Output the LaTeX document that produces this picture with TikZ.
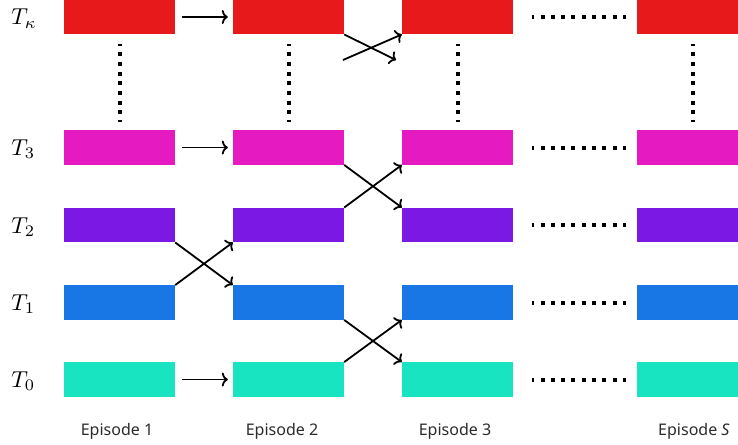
\documentclass[tikz,border=0pt]{standalone}
\usepackage{fontspec}
\newfontfamily\epfont{Noto Sans}
\usetikzlibrary{arrows.meta}
\definecolor{cred}{HTML}{E8191A}
\definecolor{cmag}{HTML}{E51AC1}
\definecolor{cpur}{HTML}{7C18E3}
\definecolor{cblu}{HTML}{1877E4}
\definecolor{ctea}{HTML}{19E4C1}
\definecolor{ctxt}{HTML}{2B2B2B}
\begin{document}
\begin{tikzpicture}[x=1pt,y=-1pt,
    box/.style={rectangle,inner sep=0pt,minimum width=111pt,minimum height=34.5pt,fill=#1},
    lab/.style={anchor=base west,scale=2.3,inner sep=0pt},
    eplab/.style={anchor=base,font=\epfont\fontsize{16}{19}\selectfont,text=ctxt,inner sep=0pt},
    arr/.style={line width=1.8pt,-{To[length=6pt,width=14pt]}},
    dotv/.style={line width=4pt,dash pattern=on 4pt off 5.7pt,dash phase=2pt},
    doth/.style={line width=4pt,dash pattern=on 4pt off 6.3pt,dash phase=2pt}]
  \clip (0,0) rectangle (738,444);
  \draw
    (119.5,17) node[box=cred] (rk1){}
    (288.5,17) node[box=cred] (rk2){}
    (457.5,17) node[box=cred] (rk3){}
    (692.5,17) node[box=cred] (rkS){}
    (119.5,147.5) node[box=cmag] (r31){}
    (288.5,147.5) node[box=cmag] (r32){}
    (457.5,147.5) node[box=cmag] (r33){}
    (692.5,147.5) node[box=cmag] (r3S){}
    (119.5,225) node[box=cpur] (r21){}
    (288.5,225) node[box=cpur] (r22){}
    (457.5,225) node[box=cpur] (r23){}
    (692.5,225) node[box=cpur] (r2S){}
    (119.5,302.5) node[box=cblu] (r11){}
    (288.5,302.5) node[box=cblu] (r12){}
    (457.5,302.5) node[box=cblu] (r13){}
    (692.5,302.5) node[box=cblu] (r1S){}
    (119.5,379.5) node[box=ctea] (r01){}
    (288.5,379.5) node[box=ctea] (r02){}
    (457.5,379.5) node[box=ctea] (r03){}
    (692.5,379.5) node[box=ctea] (r0S){};
  % row labels
  \node[lab] (tk) at (11,25) {$T_\kappa$};
  \node[lab] (t3) at (11,155.5) {$T_3$};
  \node[lab] (t2) at (11,233) {$T_2$};
  \node[lab] (t1) at (11,310.5) {$T_1$};
  \node[lab] (t0) at (11,387.5) {$T_0$};
  % episode labels
  \node[eplab] (e1) at (117,435) {Episode 1};
  \node[eplab] (e2) at (282,435) {Episode 2};
  \node[eplab] (e3) at (455,435) {Episode 3};
  \node[eplab] (eS) at (694,435) {Episode \textit{S}};
  % free ends of the top crossing
  \coordinate (xa) at (396,60);
  \coordinate (xb) at (343,60);
  \begin{scope}[arr]
    \draw[shorten <=7pt,shorten >=5pt] (rk1.east) to (rk2.west);
    \draw[shorten <=7pt,shorten >=5pt] (r31.east) to (r32.west);
    \draw[shorten <=7pt,shorten >=5pt] (r01.east) to (r02.west);
    \draw (r11.north east) to (r22.south west);
    \draw (r21.south east) to (r12.north west);
    \draw (r32.south east) to (r23.north west);
    \draw (r22.north east) to (r33.south west);
    \draw (r12.south east) to (r03.north west);
    \draw (r02.north east) to (r13.south west);
    \draw (rk2.south east) to (xa);
    \draw (xb) to (rk3.south west);
  \end{scope}
  \begin{scope}[dotv]
    \draw[shorten <=10pt,shorten >=8pt] (rk1.south) to (r31.north);
    \draw[shorten <=10pt,shorten >=8pt] (rk2.south) to (r32.north);
    \draw[shorten <=10pt,shorten >=8pt] (rk3.south) to (r33.north);
    \draw[shorten <=10pt,shorten >=8pt] (rkS.south) to (r3S.north);
  \end{scope}
  \begin{scope}[doth]
    \draw[shorten <=19pt,shorten >=11pt] (rk3.east) to (rkS.west);
    \draw[shorten <=19pt,shorten >=11pt] (r33.east) to (r3S.west);
    \draw[shorten <=19pt,shorten >=11pt] (r23.east) to (r2S.west);
    \draw[shorten <=19pt,shorten >=11pt] (r13.east) to (r1S.west);
    \draw[shorten <=19pt,shorten >=11pt] (r03.east) to (r0S.west);
  \end{scope}
\end{tikzpicture}
\end{document}
